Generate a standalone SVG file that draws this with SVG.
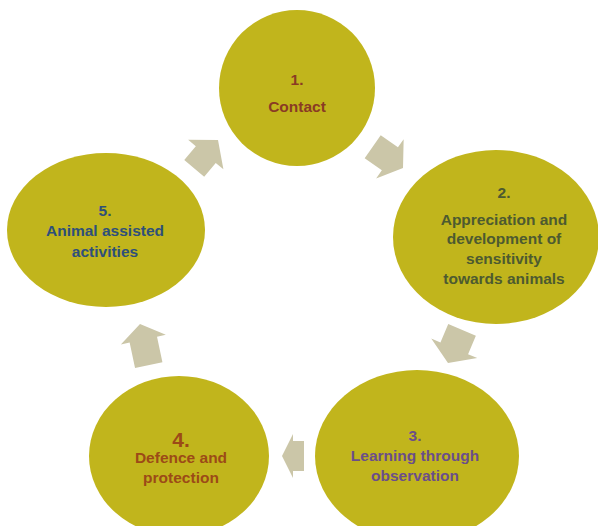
<svg xmlns="http://www.w3.org/2000/svg" width="598" height="526" viewBox="0 0 598 526">
<style>
.node{fill:#c1b51c}
.arrow{fill:#cbc6a8}
text{font-family:"Liberation Sans",Arial,sans-serif;font-weight:bold;font-size:15.5px;text-anchor:middle}
.t1{fill:#8a3b24}
.t2{fill:#4d5a30}
.t3{fill:#6b4e8a}
.t4{fill:#9c4a17}
.t5{fill:#2e4f7a}
</style>
<rect width="598" height="526" fill="#ffffff"/>
<g id="connectors">
<polygon class="arrow" transform="translate(218,140) rotate(-50)" points="0,0 -19,-23 -19,-13 -37,-13 -37,13 -19,13 -19,23"/>
<polygon class="arrow" transform="translate(403,168) rotate(35)" points="0,0 -16,-24 -16,-14 -37,-14 -37,14 -16,14 -16,24"/>
<polygon class="arrow" transform="translate(448,363) rotate(113)" points="0,0 -16,-25 -16,-15 -36,-15 -36,15 -16,15 -16,25"/>
<polygon class="arrow" transform="translate(282,456) rotate(180)" points="0,0 -11,-22 -11,-15 -22,-15 -22,15 -11,15 -11,22"/>
<polygon class="arrow" transform="translate(140,324) rotate(-102)" points="0,0 -16,-23 -16,-14 -42,-14 -42,14 -16,14 -16,23"/>
</g>
<g id="node1">
<ellipse class="node" cx="297" cy="88" rx="78" ry="78"/>
<text class="t1" x="297" y="85">1.</text>
<text class="t1" x="297" y="112">Contact</text>
</g>
<g id="node2">
<ellipse class="node" cx="496" cy="237" rx="103" ry="87"/>
<text class="t2" x="504" y="198">2.</text>
<text class="t2" x="504" y="225">Appreciation and</text>
<text class="t2" x="504" y="244">development of</text>
<text class="t2" x="504" y="264">sensitivity</text>
<text class="t2" x="504" y="284">towards animals</text>
</g>
<g id="node3">
<ellipse class="node" cx="417" cy="456" rx="102" ry="86"/>
<text class="t3" x="415" y="441">3.</text>
<text class="t3" x="415" y="461">Learning through</text>
<text class="t3" x="415" y="481">observation</text>
</g>
<g id="node4">
<ellipse class="node" cx="179" cy="456" rx="90" ry="80"/>
<text class="t4" x="181" y="447" style="font-size:21px">4.</text>
<text class="t4" x="181" y="463">Defence and</text>
<text class="t4" x="181" y="483">protection</text>
</g>
<g id="node5">
<ellipse class="node" cx="106" cy="230" rx="99" ry="77"/>
<text class="t5" x="105" y="216">5.</text>
<text class="t5" x="105" y="236">Animal assisted</text>
<text class="t5" x="105" y="257">activities</text>
</g>
</svg>
